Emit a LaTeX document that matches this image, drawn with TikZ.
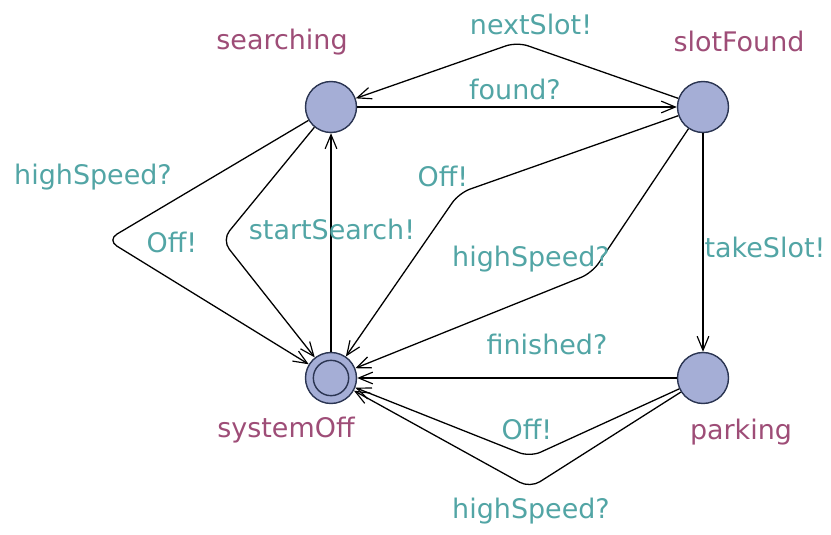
\documentclass[tikz,border=0pt]{standalone}
\usepackage{fontspec}
\setmainfont{DejaVu Sans}
\usetikzlibrary{arrows.meta}
\definecolor{locname}{HTML}{9E4D77}
\definecolor{synclbl}{HTML}{52A5A5}
\definecolor{locfill}{HTML}{A5AED6}
\definecolor{locdraw}{HTML}{2B3552}
\begin{document}
\begin{tikzpicture}[x=0.03cm, y=-0.03cm,
  font=\fontsize{23}{27}\selectfont,
  loc/.style={circle, draw=locdraw, fill=locfill, line width=1.2pt,
              minimum size=1.53cm, inner sep=0pt},
  locname/.style={text=locname, inner sep=0pt},
  sync/.style={text=synclbl, inner sep=0pt},
  edge/.style={draw=black, line width=1.1pt, rounded corners=10pt,
               -{Straight Barb[length=12pt, width=10pt, line width=1pt]}}]
\useasboundingbox (0,0) rectangle (831,535);

% locations
\node[loc] (searching) at (331,107) {};
\node[loc] (slotFound) at (703,107) {};
\node[loc] (systemOff) at (331,378) {};
\node[loc] (parking)   at (703,378) {};
\draw[locdraw, line width=1.2pt] (systemOff.center) circle[radius=0.53cm];

% location names
\node[locname] (nSearching) at (282,42)  {searching};
\node[locname] (nSlotFound) at (739,41)  {slotFound};
\node[locname] (nSystemOff) at (286,430) {systemOff};
\node[locname] (nParking)   at (741,432) {parking};

% transitions
\draw[edge] (searching) -- (slotFound);
\draw[edge] (slotFound) -- (517,42) -- (searching);
\draw[edge] (systemOff) -- (searching);
\draw[edge] (searching) -- (107,240) -- (systemOff);
\draw[edge] (searching) -- (222,240) -- (systemOff);
\draw[edge] (slotFound) -- (459,193) -- (systemOff);
\draw[edge] (slotFound) -- (592,273) -- (systemOff);
\draw[edge] (slotFound) -- (parking);
\draw[edge] (parking) -- (systemOff);
\draw[edge] (parking) -- (530,457) -- (systemOff);
\draw[edge] (parking) -- (530,488) -- (systemOff);

% synchronisation labels
\node[sync] (lNextSlot)  at (531,24)  {nextSlot!};
\node[sync] (lFound)     at (515,89)  {found?};
\node[sync] (lHighL)     at (93,177)  {highSpeed?};
\node[sync] (lOffL)      at (172,242) {Off!};
\node[sync] (lStart)     at (332,229) {startSearch!};
\node[sync] (lOffM)      at (443,176) {Off!};
\node[sync] (lHighM)     at (531,259) {highSpeed?};
\node[sync] (lTake)      at (765,247) {takeSlot!};
\node[sync] (lFinished)  at (547,344) {finished?};
\node[sync] (lOffB)      at (527,429) {Off!};
\node[sync] (lHighB)     at (531,511) {highSpeed?};
\end{tikzpicture}
\end{document}
